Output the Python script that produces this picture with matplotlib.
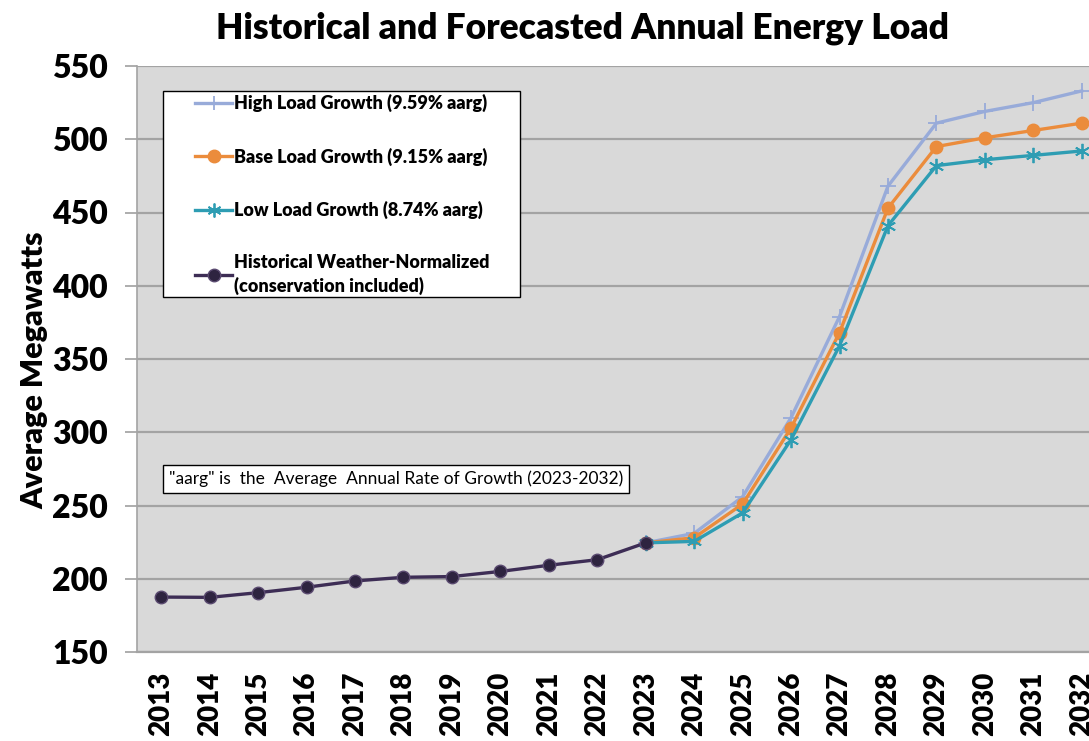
import matplotlib
matplotlib.use("Agg")
import matplotlib.pyplot as plt
from matplotlib.lines import Line2D
from matplotlib.patches import Rectangle

plt.rcParams['font.family'] = ['Lato', 'DejaVu Sans']

years_hist = [2013, 2014, 2015, 2016, 2017, 2018, 2019, 2020, 2021, 2022, 2023]
hist = [187.5, 187.3, 190.5, 194.2, 198.5, 201.0, 201.5, 205.0, 209.2, 213.0, 224.5]

years_fc = [2023, 2024, 2025, 2026, 2027, 2028, 2029, 2030, 2031, 2032]
high = [224.5, 231, 256, 310, 379, 468, 511, 519, 525, 533]
base = [224.5, 228, 251, 303, 368, 453, 495, 501, 506, 511]
low = [224.5, 225.5, 245, 295, 359, 441, 482, 486, 489, 492]

xticks = list(range(2013, 2033))
yticks = [150, 200, 250, 300, 350, 400, 450, 500, 550]

labels = ["High Load Growth (9.59% aarg)",
          "Base Load Growth (9.15% aarg)",
          "Low Load Growth (8.74% aarg)",
          "Historical Weather-Normalized\n(conservation included)"]

c_high = '#98abd9'
c_base = '#eb8c3c'
c_low = '#2e9db3'
c_hist = '#3d2d55'

W, H = 1089, 741
fig = plt.figure(figsize=(W / 100, H / 100), dpi=100)
ax = fig.add_axes([137 / W, 1 - 652 / H, (1106 - 137) / W, (652 - 66) / H])
ax.set_facecolor('#d9d9d9')

ax.plot(years_fc, high, color=c_high, lw=2.4, marker='+', ms=11, mew=1.3, zorder=3)
ax.plot(years_fc, base, color=c_base, lw=2.4, marker='o', ms=9, zorder=4)
ax.plot(years_fc, low, color=c_low, lw=2.4, marker=(6, 2, 0), ms=11, mew=1.3, zorder=5)
ax.plot(years_hist, hist, color=c_hist, lw=2.4, marker='o', ms=9,
        mfc='#2e2440', mec='#5a4a70', mew=1, zorder=6)

ax.set_xlim(2012.5, 2032.5)
ax.set_ylim(150, 550)
ax.set_xticks(xticks)
ax.set_xticklabels([str(x) for x in xticks], rotation=90, fontsize=20,
                   fontweight='heavy')
ax.set_yticks(yticks)
ax.set_yticklabels([str(y) for y in yticks], fontsize=23, fontweight='heavy')
ax.tick_params(axis='x', length=0, pad=14)
ax.tick_params(axis='y', length=9, width=1.2, color='#a0a0a0', pad=12)
ax.yaxis.grid(True, color='#a3a3a3', lw=1.6)
ax.set_axisbelow(True)
for s in ['top', 'right']:
    ax.spines[s].set_visible(False)
ax.spines['left'].set_color('#a3a3a3')
ax.spines['left'].set_linewidth(1.2)
ax.spines['bottom'].set_color('#a3a3a3')
ax.spines['bottom'].set_linewidth(1.6)

ax.set_ylabel('Average Megawatts', fontsize=22, fontweight='heavy', labelpad=3)
ax.yaxis.label.set_position((0, (652 - 370) / (652 - 66)))
fig.text(582 / W, 1 - 28 / H, 'Historical and Forecasted Annual Energy Load',
         ha='center', va='center', fontsize=25.5, fontweight='heavy')

# legend frame
ax.add_patch(Rectangle((163 / W, 1 - 297 / H), (520 - 163) / W, (297 - 91) / H,
                       transform=fig.transFigure, fc='white', ec='black',
                       lw=1.0, zorder=8, clip_on=False))

handles = [
    Line2D([], [], color=c_high, lw=2.4, marker='+', ms=10, mew=1.3),
    Line2D([], [], color=c_base, lw=2.4, marker='o', ms=9),
    Line2D([], [], color=c_low, lw=2.4, marker=(6, 2, 0), ms=10, mew=1.3),
    Line2D([], [], color=c_hist, lw=2.4, marker='o', ms=9, mfc='#2e2440',
           mec='#5a4a70'),
]
leg = ax.legend(handles, labels, loc='upper left',
                bbox_to_anchor=(195 / W, 1 - 94 / H), bbox_transform=fig.transFigure,
                prop={'weight': 'heavy', 'size': 13}, frameon=False,
                handlelength=2.05, handletextpad=0.1,
                labelspacing=1.95, borderpad=0, borderaxespad=0)
for t in leg.get_texts():
    t.set_linespacing(1.35)
leg.set_zorder(10)

fig.text(169 / W, 1 - 479 / H,
         '"aarg" is  the  Average  Annual Rate of Growth (2023-2032)',
         ha='left', va='center', fontsize=12.5,
         bbox=dict(boxstyle='square,pad=0.35', fc='white', ec='black', lw=1))

fig.savefig('out.png', dpi=100)
